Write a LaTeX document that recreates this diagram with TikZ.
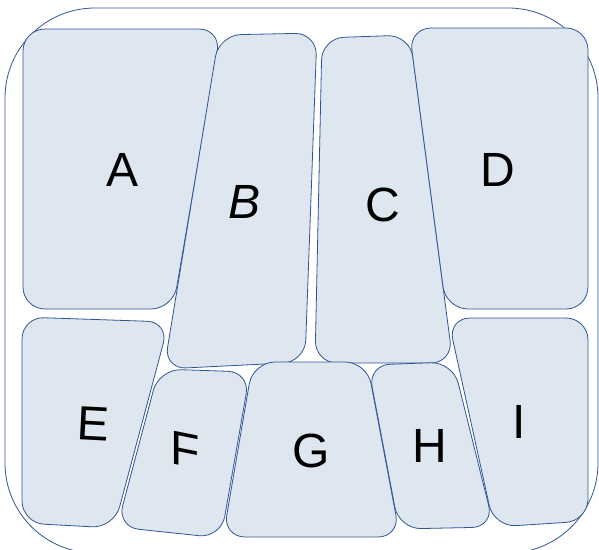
\documentclass[tikz,border=0pt]{standalone}
\usepackage{fontspec}
\setmainfont{Liberation Sans}
\usepackage{tikz}
\usetikzlibrary{positioning}
\definecolor{panelfill}{RGB}{222,230,240}
\definecolor{panelline}{RGB}{47,85,151}

\begin{document}
\begin{tikzpicture}[x=1pt,y=-1pt,
    pan/.style={draw=panelline,fill=panelfill,line width=0.8pt,rounded corners=22pt},
    lab/.style={inner sep=0pt,font=\fontsize{48}{48}\selectfont}]

\useasboundingbox (0,0) rectangle (599,549);
\clip (0,0) rectangle (599,549);

\draw[draw=panelline,line width=0.8pt,rounded corners=90pt] (5,8) rectangle (598,553);

% top row
\draw[pan] (23,29) -- (221,29) -- (173,309) -- (23,309) -- cycle;
\draw[pan] (219,35) -- (317,33) -- (305,362) -- (164,369) -- cycle;
\draw[pan] (322,38) -- (410,35) -- (453,363) -- (315,363) -- cycle;
\draw[pan] (409,28) -- (588,28) -- (588,309) -- (446,309) -- cycle;

% bottom row
\draw[pan] (22,317) -- (169,322) -- (114,528) -- (22,523) -- cycle;
\draw[pan] (159,369) -- (250,372) -- (221,538) -- (117,527) -- cycle;
\draw[pan] (253,362) -- (367,362) -- (400,537) -- (223,537) -- cycle;
\draw[pan] (368,365) -- (453,362) -- (494,527) -- (399,529) -- cycle;
\draw[pan] (448,318) -- (588,318) -- (588,521) -- (494,527) -- cycle;

\node[lab] (a) at (123,170) {A};
\node[lab,font=\fontsize{48}{48}\selectfont\itshape] (b) at (245,202) {B};
\node[lab] (c) at (383,205) {C};
\node[lab] (d) at (498,170) {D};
\node[lab,rotate=-3] (e) at (93,424) {E};
\node[lab,yslant=-0.2] (f) at (185,450) {F};
\node[lab] (g) at (311,451) {G};
\node[lab] (h) at (430,446) {H};
\node[lab] (i) at (519,422) {I};

\end{tikzpicture}
\end{document}
